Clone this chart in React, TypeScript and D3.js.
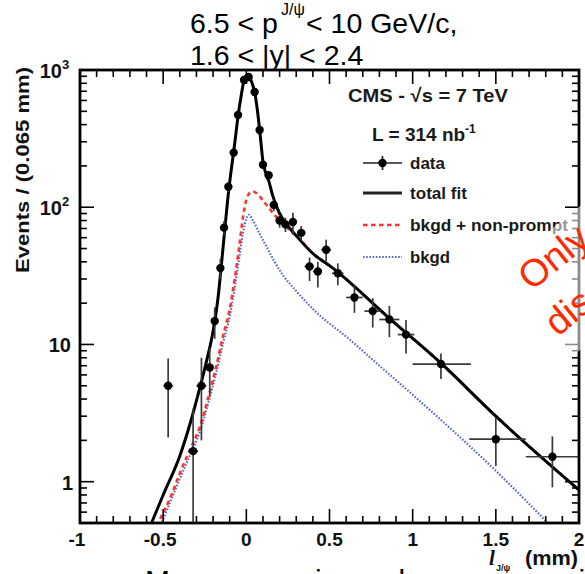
import React from "react";
import * as d3 from "d3";

// ---------- data ----------
const dataX = [-0.47, -0.32, -0.27, -0.22, -0.19, -0.156, -0.134, -0.108, -0.076, -0.05, -0.014, 0.014, 0.05, 0.08, 0.1, 0.134, 0.165, 0.2, 0.235, 0.28, 0.33, 0.38, 0.43, 0.48, 0.55, 0.65, 0.76, 0.86, 0.96, 1.17, 1.5, 1.84];
const dataY = [5, 1.67, 5.0, 6.8, 14.8, 36, 71, 141, 250, 470, 845, 890, 692, 365, 204, 171, 104, 80, 75, 78, 65, 37, 34, 49, 33, 22, 17.5, 15.2, 11.8, 7.2, 2.04, 1.52];
const dataYLow = [2.1, 0.3, 2.0, 4.2, 11.0, 30, 62.6, 129, 234, 448, 816, 860, 666, 346, 190, 158, 94, 71, 66, 63, 57, 29, 26, 40, 27, 17, 13.3, 11.3, 8.6, 5.6, 1.3, 0.91];
const dataYHigh = [7.9, 3.4, 8.0, 9.4, 18.6, 42, 79.4, 153, 266, 492, 874, 920, 718, 384, 218, 184, 114, 89, 84, 91, 73, 43, 40, 58, 39, 27, 21.7, 19.1, 15.1, 8.6, 2.94, 2.14];
const dataXLow = [-0.5, -0.35, -0.3, -0.24, -0.205, -0.17, -0.145, -0.12, -0.09, -0.064, -0.03, 0.0, 0.035, 0.068, 0.09, 0.12, 0.15, 0.185, 0.218, 0.26, 0.305, 0.35, 0.4, 0.45, 0.515, 0.6, 0.71, 0.8, 0.91, 1.0, 1.34, 1.68];
const dataXHigh = [-0.44, -0.29, -0.24, -0.205, -0.175, -0.143, -0.122, -0.095, -0.062, -0.036, 0.0, 0.028, 0.065, 0.092, 0.112, 0.148, 0.18, 0.215, 0.252, 0.3, 0.355, 0.405, 0.455, 0.51, 0.585, 0.7, 0.81, 0.92, 1.01, 1.35, 1.68, 2.0];

const fitX = [-0.62, -0.57, -0.5, -0.4, -0.34, -0.28, -0.24, -0.2, -0.17, -0.15, -0.13, -0.11, -0.09, -0.07, -0.05, -0.03, -0.015, 0.0, 0.015, 0.03, 0.05, 0.07, 0.085, 0.1, 0.115, 0.135, 0.16, 0.2, 0.25, 0.3, 0.4, 0.52, 0.86, 1.17, 1.5, 2.0];
const fitY = [0.36, 0.5, 0.8, 1.54, 2.6, 4.8, 7.5, 12.5, 22, 38, 68, 120, 190, 290, 460, 660, 830, 915, 900, 830, 690, 470, 320, 215, 180, 155, 120, 90, 73, 62, 46, 36, 15.5, 7.3, 3.0, 0.87];

const npX = [-0.56, -0.53, -0.45, -0.4, -0.34, -0.28, -0.22, -0.18, -0.14, -0.1, -0.07, -0.04, -0.02, 0.0, 0.02, 0.04, 0.06, 0.1, 0.15, 0.2, 0.25, 0.3, 0.4, 0.52, 0.86, 1.17, 1.5, 2.0];
const npY = [0.42, 0.5, 0.8, 1.15, 1.7, 2.5, 4.5, 7, 11.5, 18, 30, 55, 85, 113, 127, 130, 127, 112, 94, 80, 70, 62, 46, 36, 15.5, 7.3, 3.0, 0.87];

const bkgX = [-0.54, -0.51, -0.45, -0.4, -0.34, -0.28, -0.22, -0.18, -0.14, -0.1, -0.07, -0.04, -0.02, 0.0, 0.015, 0.04, 0.08, 0.12, 0.17, 0.22, 0.3, 0.42, 0.62, 0.8, 1.0, 1.5, 1.85];
const bkgY = [0.42, 0.5, 0.75, 1.05, 1.55, 2.3, 4.1, 6.3, 10.3, 16, 26, 45, 65, 82, 88, 80, 64, 52, 40, 32, 24.5, 17.2, 10.9, 7.0, 4.3, 1.2, 0.45];

const xTickValues = [-1, -0.5, 0, 0.5, 1, 1.5, 2];
const xTickLabels = ["-1", "-0.5", "0", "0.5", "1", "1.5", "2"];
const yTickValues = [1, 10, 100, 1000];
const yTickBase = ["1", "10", "10", "10"];
const yTickExp = ["", "", "2", "3"];

const titleLine2 = "1.6 < |y| < 2.4";
const legendLabels = ["data", "total fit", "bkgd + non-prompt", "bkgd"];

const FONT = "'Liberation Sans', Arial, Helvetica, sans-serif";

export default function App() {
  const L = 80, R = 579, T = 70, B = 523;
  const x = d3.scaleLinear().domain([-1, 2]).range([L, R]);
  const y = d3.scaleLog().domain([0.5, 1000]).range([B, T]);

  const path = (xs: number[], ys: number[]) =>
    d3
      .line<number>()
      .x((d) => x(d))
      .y((_, i) => y(ys[i]))
      .curve(d3.curveMonotoneX)(xs) || "";

  const xMinor = d3.range(-10, 21).map((i) => ({ v: i / 10, major: i % 5 === 0 }));
  const yMinor = y.ticks().map((v) => ({ v, major: Math.abs(Math.log10(v) - Math.round(Math.log10(v))) < 1e-6 }));

  const legendRowY = [163, 193, 225, 257];
  const legendTextLen = [35, 57, 158, 40];

  return (
    <svg
      width={585}
      height={574}
      viewBox="0 0 585 574"
      style={{ position: "absolute", left: 0, top: 0, background: "#fff", overflow: "hidden" }}
      fontFamily={FONT}
    >
      <defs>
        <clipPath id="plotclip">
          <rect x={L} y={T} width={R - L} height={B - T} />
        </clipPath>
      </defs>
      <rect x={0} y={0} width={585} height={574} fill="#fff" />

      {/* curves */}
      <g clipPath="url(#plotclip)" fill="none">
        <path d={path(bkgX, bkgY)} stroke="#5b6bc8" strokeWidth={2.2} strokeDasharray="1.6 1.6" />
        <path d={path(npX, npY)} stroke="#ff3333" strokeWidth={2.6} strokeDasharray="4.5 3.5" />
        <path d={path(fitX, fitY)} stroke="#000" strokeWidth={3} />
      </g>

      {/* data with error bars */}
      <g clipPath="url(#plotclip)">
        {dataX.map((dx, i) => (
          <g key={i}>
            <line x1={x(dx)} x2={x(dx)} y1={y(dataYLow[i])} y2={y(dataYHigh[i])} stroke="#3a3a3a" strokeWidth={1.7} />
            <line x1={x(dataXLow[i])} x2={x(dataXHigh[i])} y1={y(dataY[i])} y2={y(dataY[i])} stroke="#3a3a3a" strokeWidth={1.7} />
            <circle cx={x(dx)} cy={y(dataY[i])} r={4.2} fill="#000" />
          </g>
        ))}
      </g>

      {/* ticks */}
      <g stroke="#000" strokeWidth={1.6}>
        {xMinor.map((t, i) => {
          const len = t.major ? 14 : 7;
          return (
            <g key={"x" + i}>
              <line x1={x(t.v)} x2={x(t.v)} y1={B} y2={B - len} />
              <line x1={x(t.v)} x2={x(t.v)} y1={T} y2={T + len} />
            </g>
          );
        })}
        {yMinor.map((t, i) => {
          const len = t.major ? 14 : 7;
          return (
            <g key={"y" + i}>
              <line x1={L} x2={L + len} y1={y(t.v)} y2={y(t.v)} />
              <line x1={R} x2={R - len} y1={y(t.v)} y2={y(t.v)} />
            </g>
          );
        })}
      </g>

      {/* frame */}
      <rect x={L} y={T} width={R - L} height={B - T} fill="none" stroke="#000" strokeWidth={2.8} />

      {/* x tick labels */}
      <g fontWeight="bold" fontSize={19} fill="#111" textAnchor="middle">
        {xTickValues.map((v, i) => (
          <text key={i} x={x(v) - (v < 0 ? 3 : 0)} y={546}>
            {xTickLabels[i]}
          </text>
        ))}
      </g>

      {/* y tick labels */}
      <g fontWeight="bold" fill="#111">
        {yTickValues.map((v, i) =>
          yTickExp[i] ? (
            <g key={i}>
              <text x={62} y={y(v) + 8} fontSize={20} textAnchor="end">
                {yTickBase[i]}
              </text>
              <text x={62} y={y(v) - 1} fontSize={13} textAnchor="start">
                {yTickExp[i]}
              </text>
            </g>
          ) : (
            <text key={i} x={yTickBase[i].length === 1 ? 73 : 71} y={y(v) + 8} fontSize={20} textAnchor="end">
              {yTickBase[i]}
            </text>
          )
        )}
      </g>

      {/* axis titles */}
      <text
        transform="translate(29,170) rotate(-90)"
        textAnchor="middle"
        fontSize={19}
        fontWeight="bold"
        fill="#111"
        textLength={206}
        lengthAdjust="spacingAndGlyphs"
      >
        Events / (0.065 mm)
      </text>
      <g fill="#111">
        <text x={489} y={565} fontSize={21} fontStyle="italic" fontWeight="bold" fontFamily="'Liberation Serif', 'Times New Roman', serif">
          l
        </text>
        <text x={496} y={571} fontSize={9} fontWeight="bold">
          J/ψ
        </text>
        <text x={525} y={565} fontSize={20} fontWeight="bold" textLength={53} lengthAdjust="spacingAndGlyphs">
          (mm)
        </text>
      </g>

      {/* legend */}
      <g fill="#1a1a1a" fontWeight="bold">
        <text x={348} y={102} fontSize={19} textLength={160} lengthAdjust="spacingAndGlyphs">
          CMS - √s = 7 TeV
        </text>
        <text x={372} y={141} fontSize={19}>
          L = 314 nb<tspan dy={-8} fontSize={12}>-1</tspan>
        </text>
        {legendLabels.map((lab, i) => (
          <text key={i} x={410} y={legendRowY[i] + 6} fontSize={17} textLength={legendTextLen[i]} lengthAdjust="spacingAndGlyphs">
            {lab}
          </text>
        ))}
      </g>
      <g>
        <line x1={363} x2={402} y1={legendRowY[0]} y2={legendRowY[0]} stroke="#222" strokeWidth={1.7} />
        <line x1={382.5} x2={382.5} y1={legendRowY[0] - 7} y2={legendRowY[0] + 7} stroke="#222" strokeWidth={1.7} />
        <circle cx={382.5} cy={legendRowY[0]} r={4.2} fill="#000" />
        <line x1={363} x2={402} y1={legendRowY[1]} y2={legendRowY[1]} stroke="#222" strokeWidth={3} />
        <line x1={363} x2={402} y1={legendRowY[2]} y2={legendRowY[2]} stroke="#ff3333" strokeWidth={2.4} strokeDasharray="4.5 3.5" />
        <line x1={363} x2={402} y1={legendRowY[3]} y2={legendRowY[3]} stroke="#5b6bc8" strokeWidth={2.2} strokeDasharray="1.6 1.6" />
      </g>

      {/* title */}
      <g fill="#000" fontSize={28.5}>
        <text x={190} y={33}>
          6.5 &lt; p
        </text>
        <text x={281} y={15} fontSize={16}>
          J/ψ
        </text>
        <text x={306} y={33}>
          {" "}&lt; 10 GeV/c,
        </text>
        <text x={190} y={65}>
          {titleLine2}
        </text>
      </g>

      {/* red annotation with translucent box */}
      <g transform="translate(580,206) rotate(-39)">
        <rect x={-115} y={0} width={260} height={112} fill="#fff" fillOpacity={0.55} />
        <text x={-92} y={36} fontSize={38} fill="#ff2a00">
          Only
        </text>
        <text x={-100} y={88} fontSize={38} fill="#ff2a00">
          dis
        </text>
      </g>

      {/* next line of slide text, only the tops show */}
      <text x={145} y={591} fontSize={30} fill="#000">
        Mean errors in our lower ranges in
      </text>
    </svg>
  );
}
